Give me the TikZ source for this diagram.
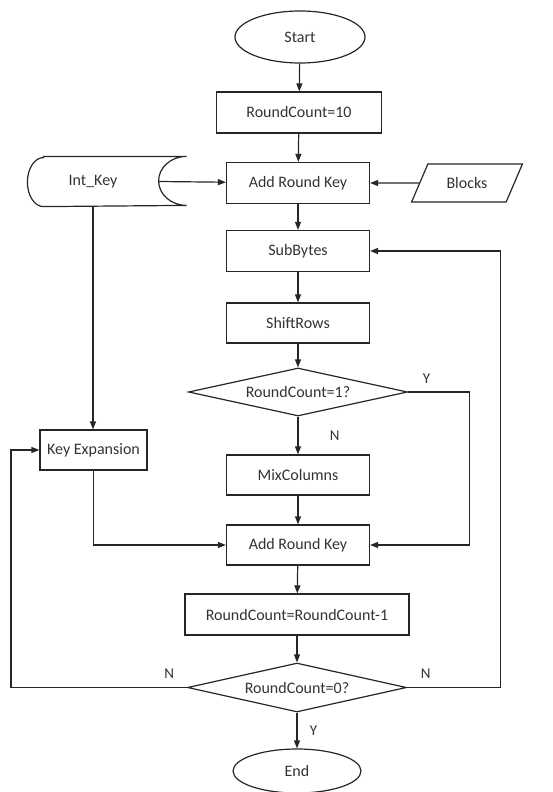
\documentclass[tikz,border=0pt]{standalone}
\usepackage{fontspec}
\setmainfont{Carlito}
\usetikzlibrary{shapes, arrows.meta, positioning, calc}

\begin{document}
\begin{tikzpicture}[x=1pt, y=1pt, >={Triangle[length=8pt,width=6pt]},
    every node/.style={font=\fontsize{16}{19}\selectfont, text=black!80},
    every path/.style={draw=black!85, line width=1.2pt},
    box/.style={draw, rectangle, minimum height=41, inner sep=2pt},
    term/.style={draw, ellipse, minimum width=130, minimum height=52},
    cond/.style={draw, diamond, aspect=4.5, minimum width=219, minimum height=48, inner sep=0pt},
    io/.style={draw, trapezium, trapezium left angle=61, trapezium right angle=119, minimum height=38, minimum width=111, trapezium stretches=true},
    lbl/.style={font=\fontsize{15}{18}\selectfont}]
    \useasboundingbox[draw=none] (0,0) rectangle (552,-792);
    \node[term] (start) at (300,-37) {Start};
    \node[box, minimum width=165] (rc) at (299,-112.5) {RoundCount=10};
    \node[box, minimum width=143] (ark1) at (298,-183) {Add Round Key};
    \node[box, minimum width=143] (sub) at (298,-251) {SubBytes};
    \node[box, minimum width=143, minimum height=40] (shift) at (298,-323) {ShiftRows};
    \node[cond] (chk1) at (298,-392) {RoundCount=1?};
    \node[box, minimum width=143, minimum height=40] (mix) at (298,-475) {MixColumns};
    \node[box, minimum width=143, minimum height=40] (ark2) at (298,-545) {Add Round Key};
    \node[box, minimum width=224] (dec) at (297,-614.5) {RoundCount=RoundCount-1};
    \node[cond, minimum height=49] (chk0) at (297,-687.5) {RoundCount=0?};
    \node[term, minimum width=128, minimum height=44] (end) at (297,-771) {End};
    \node[box, minimum width=107, minimum height=40] (keyexp) at (93.5,-450) {Key Expansion};
    \node[io] (blocks) at (467,-183) {Blocks};
    \node[minimum width=130, minimum height=49] (intkey) at (93,-181.5) {Int\_Key};
    \draw ($(intkey.north west)+(16,0)$) -- ($(intkey.north east)+(28,0)$)
        arc[start angle=90, end angle=270, x radius=28, y radius=24.5]
        -- ($(intkey.south west)+(16,0)$)
        arc[start angle=270, end angle=90, x radius=16, y radius=24.5] -- cycle;

    \draw[->] (start) -- (rc);
    \draw[->] (rc) -- (ark1);
    \draw[->] (intkey.east) -- (ark1);
    \draw[->] (blocks.west) -- (ark1);
    \draw[->] (ark1) -- (sub);
    \draw[->] (sub) -- (shift);
    \draw[->] (shift) -- (chk1);
    \draw[->] (chk1) -- node[lbl, right=28pt] {N} (mix);
    \draw[->] (mix) -- (ark2);
    \draw[->] (chk1.east) -- node[lbl, pos=0.3, above=5pt] {Y} ++(61,0) |- (ark2.east);
    \draw[->] (intkey.south) -- (intkey.south |- keyexp.north);
    \draw[->] (keyexp) |- (ark2);
    \draw[->] (ark2) -- (dec);
    \draw[->] (dec) -- (chk0);
    \draw[->] (chk0) -- node[lbl, right=9pt] {Y} (end);
    \draw[->] (chk0.west) -- node[lbl, pos=0.1, above=5pt] {N} ++(-176,0) |- (keyexp.west);
    \draw[->] (chk0.east) -- node[lbl, pos=0.2, above=5pt] {N} ++(93,0) |- (sub.east);
\end{tikzpicture}
\end{document}
